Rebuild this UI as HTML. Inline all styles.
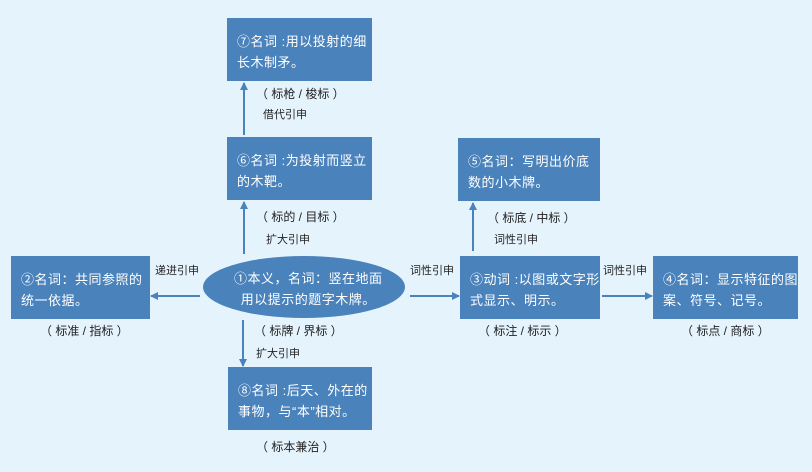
<!DOCTYPE html>
<html><head><meta charset="utf-8"><style>
body{margin:0;width:812px;height:472px;background:#e5f3fd;position:relative;overflow:hidden;font-family:"Liberation Sans","Noto Sans CJK SC","WenQuanYi Zen Hei",sans-serif}
.b{position:absolute;background:#4a82bc;color:#fff;font-size:13px;line-height:21px;padding:13px 0 0 10px;box-sizing:border-box;letter-spacing:0.5px}
.t{position:absolute;font-size:12px;color:#222;white-space:nowrap}
.s{font-size:11px}
svg{position:absolute;left:0;top:0}
</style></head><body>
<svg width="812" height="472">
<defs><marker id="a" markerWidth="8" markerHeight="8" refX="7" refY="4" orient="auto" markerUnits="userSpaceOnUse"><path d="M0,0 L8,4 L0,8 z" fill="#4a82bc"/></marker></defs>
<ellipse cx="304" cy="287" rx="101" ry="31" fill="#4a82bc"/>
<g stroke="#4a82bc" stroke-width="2" fill="none" marker-end="url(#a)">
<line x1="244" y1="135" x2="244" y2="83"/>
<line x1="244" y1="254" x2="244" y2="202"/>
<line x1="243" y1="320" x2="243" y2="366"/>
<line x1="200" y1="296" x2="151" y2="296"/>
<line x1="410" y1="296" x2="459" y2="296"/>
<line x1="602" y1="296" x2="652" y2="296"/>
<line x1="473" y1="251" x2="473" y2="203"/>
</g>
</svg>
<div class="b" style="left:227px;top:18px;width:145px;height:63px">⑦名词 :用以投射的细长木制矛。</div>
<div class="b" style="left:227px;top:137px;width:145px;height:63px">⑥名词 :为投射而竖立的木靶。</div>
<div class="b" style="left:11px;top:256px;width:139px;height:63px">②名词：共同参照的统一依据。</div>
<div class="b" style="left:228px;top:367px;width:144px;height:63px">⑧名词 :后天、外在的事物，与“本”相对。</div>
<div class="b" style="left:458px;top:138px;width:142px;height:63px">⑤名词：写明出价底数的小木牌。</div>
<div class="b" style="left:460px;top:256px;width:140px;height:63px">③动词 :以图或文字形式显示、明示。</div>
<div class="b" style="left:653px;top:256px;width:145px;height:63px">④名词：显示特征的图案、符号、记号。</div>
<div class="t" style="left:234px;top:268px;color:#fff;font-size:13px;line-height:21px;text-align:center;letter-spacing:0.5px">①本义，名词：竖在地面<br>用以提示的题字木牌。</div>
<div class="t" style="left:256px;top:85px">（ 标枪 / 梭标 ）</div>
<div class="t s" style="left:263px;top:106px">借代引申</div>
<div class="t" style="left:256px;top:208px">（ 标的 / 目标 ）</div>
<div class="t s" style="left:266px;top:231px">扩大引申</div>
<div class="t s" style="left:155px;top:262px">递进引申</div>
<div class="t" style="left:40px;top:322px">（ 标准 / 指标 ）</div>
<div class="t" style="left:254px;top:322px">（ 标牌 / 界标 ）</div>
<div class="t s" style="left:256px;top:345px">扩大引申</div>
<div class="t" style="left:256px;top:438px">（ 标本兼治 ）</div>
<div class="t" style="left:487px;top:209px">（ 标底 / 中标 ）</div>
<div class="t s" style="left:494px;top:231px">词性引申</div>
<div class="t s" style="left:410px;top:262px">词性引申</div>
<div class="t s" style="left:603px;top:262px">词性引申</div>
<div class="t" style="left:478px;top:322px">（ 标注 / 标示 ）</div>
<div class="t" style="left:681px;top:322px">（ 标点 / 商标 ）</div>
</body></html>
